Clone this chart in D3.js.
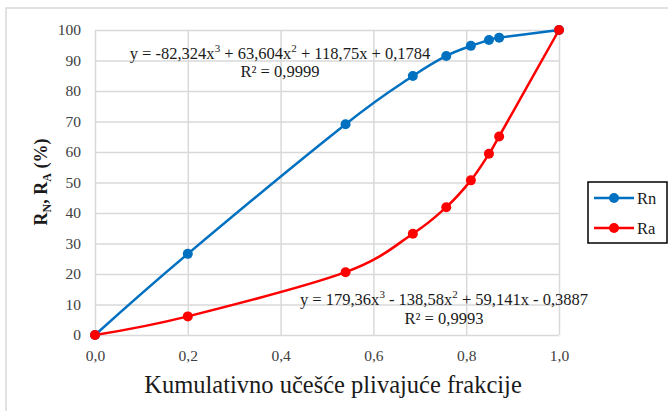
<!DOCTYPE html>
<html>
<head>
<meta charset="utf-8">
<script src="https://cdn.jsdelivr.net/npm/d3@7"></script>
</head>
<body style="margin:0">
<script>
// fraction values (x) shared by both series
var xValues = [0, 0.2, 0.54, 0.685, 0.757, 0.81, 0.849, 0.871, 1.0];
var rnValues = [0, 26.6, 69.1, 84.9, 91.5, 94.8, 96.7, 97.5, 100];
var raValues = [0, 6.1, 20.6, 33.2, 41.9, 50.7, 59.4, 65.1, 100];

var xTicks = [0, 0.2, 0.4, 0.6, 0.8, 1.0];
var yTicks = [0, 10, 20, 30, 40, 50, 60, 70, 80, 90, 100];

var seriesNames = ['Rn', 'Ra'];
var seriesColors = ['#0070c0', '#ff0000'];

var rnEquation = ['y = -82,324x', '3', ' + 63,604x', '2', ' + 118,75x + 0,1784'];
var raEquation = ['y = 179,36x', '3', ' - 138,58x', '2', ' + 59,141x - 0,3887'];
var rnR2 = 'R² = 0,9999';
var raR2 = 'R² = 0,9993';

var FONT = '"Liberation Serif"';
var width = 668, height = 411;
var margin = {top: 30, left: 95};
var plotW = 464, plotH = 305;

var svg = d3.select('body').append('svg')
    .attr('width', width)
    .attr('height', height);

// outer chart border
svg.append('rect')
    .attr('x', 6).attr('y', 8)
    .attr('width', width + 20).attr('height', height + 20)
    .attr('fill', 'none')
    .attr('stroke', '#d9d9d9')
    .attr('stroke-width', 1.5);

var g = svg.append('g')
    .attr('transform', 'translate(' + margin.left + ',' + margin.top + ')');

var x = d3.scaleLinear().domain([0, 1]).range([0, plotW]);
var y = d3.scaleLinear().domain([0, 100]).range([plotH, 0]);

var fmt = function(d) { return d3.format('.1f')(d).replace('.', ','); };

// grid lines
g.append('g')
    .call(d3.axisLeft(y).tickValues(yTicks).tickSize(-plotW).tickFormat(''))
    .call(function(s) { s.select('.domain').remove(); })
    .selectAll('line').attr('stroke', '#d9d9d9').attr('stroke-width', 1.5);

g.append('g')
    .attr('transform', 'translate(0,' + plotH + ')')
    .call(d3.axisBottom(x).tickValues(xTicks).tickSize(-plotH).tickFormat(''))
    .call(function(s) { s.select('.domain').remove(); })
    .selectAll('line').attr('stroke', '#d9d9d9').attr('stroke-width', 1.5);

// tick labels
var yAxis = g.append('g')
    .call(d3.axisLeft(y).tickValues(yTicks).tickSize(0).tickPadding(14))
    .attr('font-family', FONT)
    .attr('font-size', 15.5);
yAxis.select('.domain').remove();
yAxis.selectAll('text')
    .style('font-family', FONT)
    .style('font-size', '15.5px')
    .attr('fill', '#404040');

var xAxis = g.append('g')
    .attr('transform', 'translate(0,' + plotH + ')')
    .call(d3.axisBottom(x).tickValues(xTicks).tickSize(0).tickPadding(15).tickFormat(fmt))
    .attr('font-family', FONT)
    .attr('font-size', 15.5);
xAxis.select('.domain').remove();
xAxis.selectAll('text')
    .style('font-family', FONT)
    .style('font-size', '15.5px')
    .attr('fill', '#404040');

// series (Excel-like smoothing)
var series = [rnValues, raValues];
var line = d3.line()
    .x(function(d, i) { return x(xValues[i]); })
    .y(function(d) { return y(d); })
    .curve(d3.curveCatmullRom.alpha(0));

series.forEach(function(vals, k) {
    g.append('path')
        .attr('d', line(vals))
        .attr('fill', 'none')
        .attr('stroke', seriesColors[k])
        .attr('stroke-width', 2.5);
});

series.forEach(function(vals, k) {
    g.selectAll('.pt' + k)
        .data(vals)
        .enter().append('circle')
        .attr('cx', function(d, i) { return x(xValues[i]); })
        .attr('cy', function(d) { return y(d); })
        .attr('r', 5)
        .attr('fill', seriesColors[k]);
});

// trendline equations
function equation(parts, cx, cy) {
    var t = svg.append('text')
        .attr('x', cx).attr('y', cy)
        .attr('text-anchor', 'middle')
        .style('font-family', FONT)
        .style('font-size', '16.5px')
        .attr('fill', '#1a1a1a');
    parts.forEach(function(p, i) {
        var sp = t.append('tspan').text(p);
        if (i % 2 === 1) {
            sp.attr('dy', -7).style('font-size', '11px');
        } else if (i > 0) {
            sp.attr('dy', 7);
        }
    });
}
function label(txt, cx, cy, size) {
    return svg.append('text')
        .attr('x', cx).attr('y', cy)
        .attr('text-anchor', 'middle')
        .style('font-family', FONT)
        .style('font-size', size + 'px')
        .attr('fill', '#1a1a1a')
        .text(txt);
}
equation(rnEquation, 280, 59);
label(rnR2, 280, 77, 16.5);
equation(raEquation, 444, 305);
label(raR2, 444, 324, 16.5);

// axis titles
label('Kumulativno učešće plivajuće frakcije', 333, 393, 24.5);

var yt = svg.append('text')
    .attr('transform', 'translate(47,182) rotate(-90)')
    .attr('text-anchor', 'middle')
    .style('font-family', FONT)
    .style('font-size', '18px')
    .style('font-weight', 'bold')
    .attr('fill', '#1a1a1a');
yt.append('tspan').text('R');
yt.append('tspan').text('N').attr('dy', 4).style('font-size', '12px');
yt.append('tspan').text(', R').attr('dy', -4);
yt.append('tspan').text('A').attr('dy', 4).style('font-size', '12px');
yt.append('tspan').text(' (%)').attr('dy', -4);

// legend
var legend = svg.append('g').attr('transform', 'translate(588,182)');
legend.append('rect')
    .attr('width', 79).attr('height', 61)
    .attr('fill', '#fff')
    .attr('stroke', '#000')
    .attr('stroke-width', 1.5);
seriesNames.forEach(function(name, k) {
    var row = legend.append('g').attr('transform', 'translate(0,' + (16 + k * 30) + ')');
    row.append('line')
        .attr('x1', 6).attr('x2', 46)
        .attr('stroke', seriesColors[k]).attr('stroke-width', 2.5);
    row.append('circle').attr('cx', 26).attr('r', 5).attr('fill', seriesColors[k]);
    row.append('text').attr('x', 49).attr('y', 6)
        .style('font-family', FONT)
        .style('font-size', '16.5px').attr('fill', '#1a1a1a').text(name);
});
</script>
</body>
</html>
